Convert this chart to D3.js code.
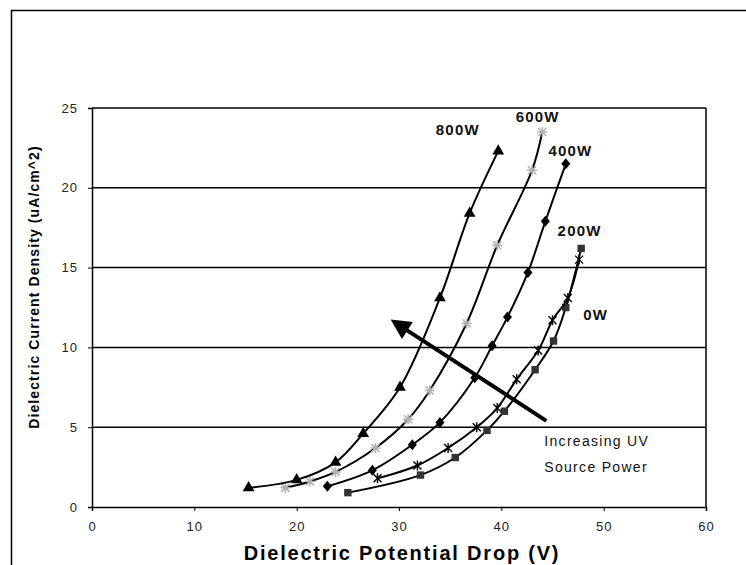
<!DOCTYPE html>
<html>
<head>
  <meta charset="utf-8">
  <title>Dielectric current density</title>
  <style>
    body { margin: 0; background: #fff; }
    text { font-family: "Liberation Sans", Arial, sans-serif; }
  </style>
</head>
<body>
<script src="https://cdnjs.cloudflare.com/ajax/libs/d3/7.8.5/d3.min.js"></script>
<script>
// values: potential drop (V) vs current density (uA/cm^2)
const v0W   = [25.0, 32.1, 35.5, 38.6, 40.3, 43.3, 45.1, 46.3, 47.8];
const j0W   = [0.9, 2.0, 3.1, 4.8, 6.0, 8.6, 10.4, 12.5, 16.2];
const v200W = [27.9, 31.8, 34.8, 37.6, 39.6, 41.5, 43.6, 45.0, 46.5, 47.6];
const j200W = [1.8, 2.6, 3.7, 5.0, 6.2, 8.0, 9.8, 11.7, 13.1, 15.5];
const v400W = [23.0, 27.4, 31.3, 34.0, 37.4, 39.1, 40.6, 42.6, 44.3, 46.3];
const j400W = [1.3, 2.3, 3.9, 5.3, 8.1, 10.1, 11.9, 14.7, 17.9, 21.5];
const v600W = [18.9, 21.3, 23.8, 27.7, 30.9, 33.0, 36.6, 39.6, 43.0, 44.0];
const j600W = [1.2, 1.6, 2.2, 3.7, 5.5, 7.3, 11.5, 16.4, 21.1, 23.5];
const v800W = [15.3, 20.0, 23.8, 26.5, 30.1, 34.0, 36.9, 39.7];
const j800W = [1.2, 1.7, 2.8, 4.6, 7.5, 13.1, 18.4, 22.3];

const xTicks = [0, 10, 20, 30, 40, 50, 60];
const yTicks = [0, 5, 10, 15, 20, 25];

const width = 746, height = 565;

const svg = d3.select("body").append("svg")
  .attr("width", width)
  .attr("height", height);

// outer figure frame (runs off the right and bottom)
svg.append("rect")
  .attr("x", 11.5).attr("y", 10.5)
  .attr("width", 760).attr("height", 600)
  .attr("fill", "none").attr("stroke", "#000").attr("stroke-width", 1.5);

const x = d3.scaleLinear().domain([0, 60]).range([92, 706]);
const y = d3.scaleLinear().domain([0, 25]).range([507, 108]);

// horizontal gridlines
svg.selectAll("line.grid")
  .data(yTicks.filter(d => d > 0))
  .enter().append("line")
  .attr("class", "grid")
  .attr("x1", x(0)).attr("x2", x(60))
  .attr("y1", d => y(d)).attr("y2", d => y(d))
  .attr("stroke", "#000").attr("stroke-width", 1.5);

// right border of plot area
svg.append("line")
  .attr("x1", x(60)).attr("x2", x(60))
  .attr("y1", y(0)).attr("y2", y(25))
  .attr("stroke", "#000").attr("stroke-width", 1.5);

// axes
const xAxis = svg.append("g")
  .attr("transform", `translate(0,${y(0)})`)
  .call(d3.axisBottom(x).tickValues(xTicks).tickSize(4).tickPadding(11));
const yAxis = svg.append("g")
  .attr("transform", `translate(${x(0)},0)`)
  .call(d3.axisLeft(y).tickValues(yTicks).tickSize(4).tickPadding(10));

[xAxis, yAxis].forEach(g => {
  g.select(".domain").attr("stroke", "#000").attr("stroke-width", 1.5);
  g.selectAll(".tick line").attr("stroke", "#000");
  g.selectAll(".tick text")
    .attr("font-family", "Liberation Sans, Arial, sans-serif")
    .attr("font-size", 13).attr("letter-spacing", 1).attr("fill", "#222");
});

// axis titles
svg.append("text")
  .attr("x", 402).attr("y", 560)
  .attr("text-anchor", "middle")
  .attr("font-size", 20).attr("font-weight", "bold").attr("letter-spacing", 1.8)
  .text("Dielectric Potential Drop (V)");

svg.append("text")
  .attr("transform", "translate(39,287) rotate(-90)")
  .attr("text-anchor", "middle")
  .attr("font-size", 14).attr("font-weight", "bold").attr("letter-spacing", 1.1)
  .text("Dielectric Current Density (uA/cm^2)");

// series
const series = [
  { name: "0W",   vs: v0W,   js: j0W,   marker: "square" },
  { name: "200W", vs: v200W, js: j200W, marker: "star" },
  { name: "400W", vs: v400W, js: j400W, marker: "diamond" },
  { name: "600W", vs: v600W, js: j600W, marker: "asterisk" },
  { name: "800W", vs: v800W, js: j800W, marker: "triangle" }
];

const line = d3.line()
  .x(d => x(d[0])).y(d => y(d[1]))
  .curve(d3.curveCatmullRom.alpha(0.5));

const shapes = {
  square:   d3.symbol().type(d3.symbolSquare).size(55)(),
  diamond:  "M0,-5.5L4.5,0L0,5.5L-4.5,0Z",
  triangle: d3.symbol().type(d3.symbolTriangle).size(60)(),
  star:     "M-4,-4L4,4M-4,4L4,-4M0,-5L0,5",
  asterisk: "M-4,-4L4,4M-4,4L4,-4M0,-5L0,5M-5,0L5,0"
};

series.forEach(s => {
  const pts = s.vs.map((v, i) => [v, s.js[i]]);
  const g = svg.append("g");
  g.append("path")
    .attr("d", line(pts))
    .attr("fill", "none").attr("stroke", "#000").attr("stroke-width", 2);
  g.selectAll("path.m")
    .data(pts)
    .enter().append("path")
    .attr("class", "m")
    .attr("transform", d => `translate(${x(d[0])},${y(d[1])})`)
    .attr("d", shapes[s.marker])
    .attr("fill", s.marker === "square" ? "#333" : "#000")
    .attr("stroke", s.marker === "asterisk" ? "#b0b0b0" : (s.marker === "star" ? "#000" : "none"))
    .attr("stroke-width", s.marker === "asterisk" ? 1.5 : 1.4);
});

// series labels
const labels = [
  { t: "800W", vx: 33.6, vy: 23.3 },
  { t: "600W", vx: 41.4, vy: 24.1 },
  { t: "400W", vx: 44.6, vy: 22.0 },
  { t: "200W", vx: 45.5, vy: 17.0 },
  { t: "0W",   vx: 48.0, vy: 11.7 }
];
svg.selectAll("text.lab")
  .data(labels)
  .enter().append("text")
  .attr("class", "lab")
  .attr("x", d => x(d.vx)).attr("y", d => y(d.vy))
  .attr("font-size", 15).attr("font-weight", "bold").attr("letter-spacing", 1.2)
  .attr("fill", "#111")
  .text(d => d.t);

// arrow: increasing UV source power
svg.append("defs").append("marker")
  .attr("id", "head")
  .attr("viewBox", "0 0 10 10")
  .attr("refX", 5).attr("refY", 5)
  .attr("markerWidth", 5.2).attr("markerHeight", 5)
  .attr("orient", "auto")
  .append("path").attr("d", "M0,0L10,5L0,10Z").attr("fill", "#000");

svg.append("line")
  .attr("x1", x(44.4)).attr("y1", y(5.4))
  .attr("x2", x(30.0)).attr("y2", y(11.4))
  .attr("stroke", "#000").attr("stroke-width", 4)
  .attr("marker-end", "url(#head)");

svg.append("text")
  .attr("x", x(44.2)).attr("y", y(3.8))
  .attr("font-size", 14).attr("letter-spacing", 1.3).attr("fill", "#111")
  .text("Increasing UV");
svg.append("text")
  .attr("x", x(44.2)).attr("y", y(2.2))
  .attr("font-size", 14).attr("letter-spacing", 1.3).attr("fill", "#111")
  .text("Source Power");
</script>
</body>
</html>
